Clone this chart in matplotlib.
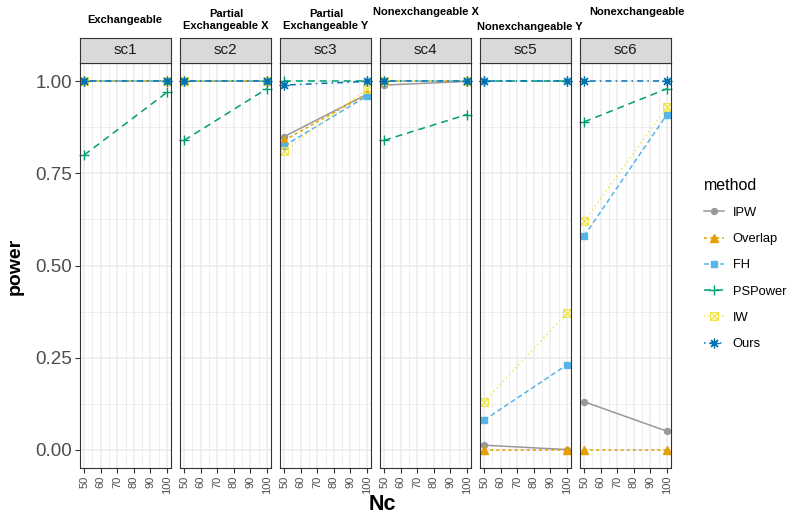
import matplotlib
matplotlib.use('Agg')
import matplotlib.pyplot as plt
from matplotlib.lines import Line2D
from matplotlib.path import Path

plt.rcParams['font.family'] = ['Liberation Sans', 'DejaVu Sans']
plt.rcParams['lines.scale_dashes'] = False

# data
nc = [50, 100]
scenarios = ['sc1', 'sc2', 'sc3', 'sc4', 'sc5', 'sc6']
titles = ['Exchangeable', 'Partial\nExchangeable X', 'Partial\nExchangeable Y',
          'Nonexchangeable X', 'Nonexchangeable Y', 'Nonexchangeable']
methods = ['IPW', 'Overlap', 'FH', 'PSPower', 'IW', 'Ours']

ipw = [[1.0, 1.0], [1.0, 1.0], [0.85, 0.965], [0.99, 1.0], [0.012, 0.0], [0.13, 0.05]]
overlap = [[1.0, 1.0], [1.0, 1.0], [0.84, 0.965], [1.0, 1.0], [0.0, 0.0], [0.0, 0.0]]
fh = [[1.0, 1.0], [1.0, 1.0], [0.825, 0.96], [1.0, 1.0], [0.08, 0.23], [0.58, 0.91]]
pspower = [[0.80, 0.97], [0.84, 0.98], [1.0, 1.0], [0.84, 0.91], [1.0, 1.0], [0.89, 0.98]]
iw = [[1.0, 1.0], [1.0, 1.0], [0.81, 0.98], [1.0, 1.0], [0.13, 0.37], [0.62, 0.93]]
ours = [[1.0, 1.0], [1.0, 1.0], [0.99, 1.0], [1.0, 1.0], [1.0, 1.0], [1.0, 1.0]]
series = [ipw, overlap, fh, pspower, iw, ours]

colors = ['#999999', '#E69F00', '#56B4E9', '#009E73', '#F0E442', '#0072B2']

# square with a cross (ggplot shape 7)
sqx = Path([(-1, -1), (1, -1), (1, 1), (-1, 1), (-1, -1), (-1, -1), (1, 1), (-1, 1), (1, -1)],
           [Path.MOVETO, Path.LINETO, Path.LINETO, Path.LINETO, Path.CLOSEPOLY,
            Path.MOVETO, Path.LINETO, Path.MOVETO, Path.LINETO])
styles = [
    dict(ls='-', marker='o', ms=4.3),
    dict(ls=(0, (2.2, 2.2)), marker='^', ms=5.5),
    dict(ls=(0, (3.6, 2.2)), marker='s', ms=4.5),
    dict(ls=(0, (5, 3.6)), marker='+', ms=7, mew=1.0),
    dict(ls=(0, (0.9, 2.4)), marker=sqx, ms=5.5, mfc='none', mew=0.9),
    dict(ls=(0, (1.1, 3.0, 4.3, 3.0)), marker=(8, 2, 0), ms=7, mew=0.9),
]

W, H = 792, 519
fig = plt.figure(figsize=(W / 100, H / 100), dpi=100)

title_pos = [(125, 20), (226, 20), (326, 20), (426, 12), (530, 27), (637, 12)]

for i, sc in enumerate(scenarios):
    x0 = 80 + 100 * i
    ax = fig.add_axes([x0 / W, (H - 468) / H, 91 / W, (468 - 63) / H])
    ax.set_xlim(47.5, 102.5)
    ax.set_ylim(-0.05, 1.05)
    ax.set_xticks([50, 60, 70, 80, 90, 100])
    ax.set_xticks([55, 65, 75, 85, 95], minor=True)
    ax.set_yticks([0, 0.25, 0.5, 0.75, 1.0])
    ax.set_yticks([0.125, 0.375, 0.625, 0.875], minor=True)
    ax.grid(which='major', color='#EBEBEB', lw=1.1)
    ax.grid(which='minor', color='#EBEBEB', lw=0.6)
    ax.set_axisbelow(True)
    for s in ax.spines.values():
        s.set_color('#333333')
        s.set_linewidth(0.8)
    ax.tick_params(which='minor', length=0)
    ax.tick_params(axis='x', which='major', length=3.5, width=0.8, color='#333333',
                   labelrotation=90, labelsize=8, labelcolor='#4D4D4D', pad=2)
    ax.tick_params(axis='y', which='major', length=3.5, width=0.8, color='#333333',
                   labelsize=13.5, labelcolor='#4D4D4D', pad=2)
    if i == 0:
        ax.set_yticklabels(['0.00', '0.25', '0.50', '0.75', '1.00'])
    else:
        ax.tick_params(axis='y', labelleft=False, length=0)

    for vals, col, st in zip(series, colors, styles):
        ax.plot(nc, vals[i], color=col, lw=1.1, mec=col, **st, clip_on=False)

    # strip
    sax = fig.add_axes([x0 / W, (H - 63) / H, 91 / W, 25 / H])
    sax.set_xticks([])
    sax.set_yticks([])
    sax.set_facecolor('#D9D9D9')
    for s in sax.spines.values():
        s.set_color('#333333')
        s.set_linewidth(0.8)
    sax.text(0.5, 0.5, sc, ha='center', va='center', fontsize=11, color='#1A1A1A',
             transform=sax.transAxes)

    tx, ty = title_pos[i]
    fig.text(tx / W, 1 - ty / H, titles[i], ha='center', va='center', fontsize=8,
             fontweight='bold', linespacing=1.25)

fig.text(15 / W, 1 - 266 / H, 'power', rotation=90, ha='center', va='center',
         fontsize=14, fontweight='bold')
fig.text(382 / W, 1 - 505 / H, 'Nc', ha='center', va='center', fontsize=15.5,
         fontweight='bold')

handles = [Line2D([], [], color=c, lw=1.1, mec=c, **st) for c, st in zip(colors, styles)]
leg = fig.legend(handles, methods, loc='upper left', bbox_to_anchor=(692 / W, 1 - 166 / H),
                 title='method', title_fontsize=11.5, fontsize=9.3, frameon=False,
                 handlelength=1.55, labelspacing=1.1, handletextpad=0.7, alignment='left')

fig.savefig('out.png', dpi=100)
